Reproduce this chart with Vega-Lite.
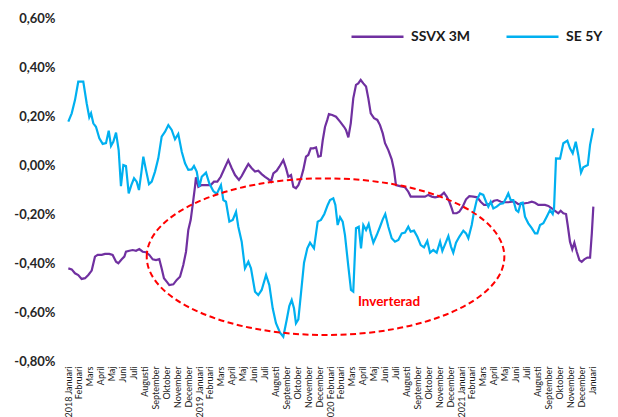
{
  "$schema": "https://vega.github.io/schema/vega-lite/v6.json",
  "width": 526,
  "height": 343,
  "autosize": {"type": "none"},
  "padding": {"left": 68, "top": 18, "right": 24, "bottom": 56},
  "background": "white",
  "config": {"view": {"stroke": null}, "font": "Lato", "axisX": {"labelOverlap": false, "labelFlush": false, "labelBound": false, "labelSeparation": 0}},
  "datasets": {
    "se": [
      {"m":0.03,"v":0.177},{"m":0.34,"v":0.211},{"m":0.64,"v":0.265},{"m":0.94,"v":0.340},{"m":1.40,"v":0.340},{"m":1.71,"v":0.252},{"m":1.95,"v":0.195},{"m":2.11,"v":0.211},{"m":2.32,"v":0.170},{"m":2.56,"v":0.156},{"m":2.87,"v":0.109},{"m":3.18,"v":0.086},{"m":3.48,"v":0.089},{"m":3.73,"v":0.140},{"m":3.94,"v":0.078},{"m":4.15,"v":0.095},{"m":4.40,"v":0.132},{"m":4.64,"v":0.061},{"m":4.85,"v":-0.086},{"m":5.07,"v":0.000},{"m":5.31,"v":-0.004},{"m":5.56,"v":-0.116},{"m":5.80,"v":-0.082},{"m":6.05,"v":-0.054},{"m":6.29,"v":-0.068},{"m":6.50,"v":-0.102},{"m":6.71,"v":-0.034},{"m":6.90,"v":0.034},{"m":7.14,"v":-0.020},{"m":7.42,"v":-0.078},{"m":7.67,"v":-0.068},{"m":7.97,"v":-0.027},{"m":8.27,"v":0.027},{"m":8.58,"v":0.116},{"m":8.89,"v":0.136},{"m":9.19,"v":0.163},{"m":9.50,"v":0.143},{"m":9.80,"v":0.105},{"m":10.10,"v":0.127},{"m":10.42,"v":0.054},{"m":10.72,"v":0.007},{"m":11.02,"v":-0.020},{"m":11.33,"v":-0.018},{"m":11.54,"v":-0.004},{"m":11.79,"v":-0.027},{"m":12.03,"v":-0.089},{"m":12.25,"v":-0.048},{"m":12.64,"v":-0.031},{"m":12.94,"v":-0.075},{"m":13.31,"v":-0.106},{"m":13.62,"v":-0.118},{"m":14.01,"v":-0.082},{"m":14.23,"v":-0.143},{"m":14.47,"v":-0.150},{"m":14.78,"v":-0.231},{"m":15.09,"v":-0.224},{"m":15.39,"v":-0.191},{"m":15.60,"v":-0.252},{"m":15.91,"v":-0.313},{"m":16.21,"v":-0.422},{"m":16.52,"v":-0.395},{"m":16.76,"v":-0.422},{"m":17.13,"v":-0.517},{"m":17.43,"v":-0.531},{"m":17.74,"v":-0.510},{"m":18.14,"v":-0.449},{"m":18.44,"v":-0.490},{"m":18.75,"v":-0.585},{"m":19.05,"v":-0.646},{"m":19.42,"v":-0.684},{"m":19.72,"v":-0.701},{"m":20.03,"v":-0.633},{"m":20.27,"v":-0.576},{"m":20.49,"v":-0.551},{"m":20.70,"v":-0.585},{"m":20.88,"v":-0.646},{"m":21.10,"v":-0.630},{"m":21.34,"v":-0.524},{"m":21.62,"v":-0.399},{"m":21.92,"v":-0.340},{"m":22.17,"v":-0.317},{"m":22.53,"v":-0.340},{"m":22.87,"v":-0.231},{"m":23.17,"v":-0.224},{"m":23.48,"v":-0.200},{"m":23.79,"v":-0.163},{"m":24.00,"v":-0.143},{"m":24.30,"v":-0.136},{"m":24.49,"v":-0.163},{"m":24.70,"v":-0.245},{"m":24.92,"v":-0.213},{"m":25.16,"v":-0.231},{"m":25.37,"v":-0.286},{"m":25.68,"v":-0.415},{"m":25.92,"v":-0.510},{"m":26.13,"v":-0.517},{"m":26.38,"v":-0.258},{"m":26.63,"v":-0.252},{"m":26.84,"v":-0.340},{"m":27.05,"v":-0.245},{"m":27.30,"v":-0.265},{"m":27.54,"v":-0.241},{"m":27.73,"v":-0.279},{"m":27.97,"v":-0.317},{"m":28.28,"v":-0.286},{"m":28.58,"v":-0.252},{"m":28.83,"v":-0.222},{"m":29.06,"v":-0.200},{"m":29.34,"v":-0.252},{"m":29.65,"v":-0.299},{"m":29.95,"v":-0.313},{"m":30.26,"v":-0.306},{"m":30.57,"v":-0.279},{"m":30.87,"v":-0.276},{"m":31.17,"v":-0.252},{"m":31.39,"v":-0.272},{"m":31.69,"v":-0.268},{"m":32.00,"v":-0.293},{"m":32.31,"v":-0.327},{"m":32.61,"v":-0.336},{"m":32.91,"v":-0.310},{"m":33.16,"v":-0.358},{"m":33.46,"v":-0.347},{"m":33.77,"v":-0.358},{"m":34.08,"v":-0.313},{"m":34.29,"v":-0.351},{"m":34.60,"v":-0.317},{"m":34.84,"v":-0.290},{"m":35.08,"v":-0.333},{"m":35.29,"v":-0.358},{"m":35.54,"v":-0.317},{"m":35.84,"v":-0.293},{"m":36.21,"v":-0.268},{"m":36.46,"v":-0.279},{"m":36.67,"v":-0.299},{"m":36.98,"v":-0.245},{"m":37.19,"v":-0.191},{"m":37.44,"v":-0.143},{"m":37.74,"v":-0.116},{"m":38.04,"v":-0.122},{"m":38.29,"v":-0.150},{"m":38.50,"v":-0.170},{"m":38.72,"v":-0.150},{"m":38.96,"v":-0.177},{"m":39.27,"v":-0.170},{"m":39.57,"v":-0.159},{"m":39.87,"v":-0.156},{"m":40.12,"v":-0.136},{"m":40.33,"v":-0.116},{"m":40.55,"v":-0.143},{"m":40.79,"v":-0.143},{"m":41.04,"v":-0.184},{"m":41.25,"v":-0.191},{"m":41.47,"v":-0.156},{"m":41.65,"v":-0.154},{"m":41.86,"v":-0.211},{"m":42.16,"v":-0.238},{"m":42.48,"v":-0.258},{"m":42.78,"v":-0.279},{"m":42.99,"v":-0.279},{"m":43.24,"v":-0.245},{"m":43.54,"v":-0.238},{"m":43.85,"v":-0.211},{"m":44.15,"v":-0.184},{"m":44.40,"v":-0.200},{"m":44.52,"v":-0.177},{"m":44.70,"v":0.027},{"m":45.07,"v":0.026},{"m":45.37,"v":0.089},{"m":45.74,"v":0.099},{"m":45.98,"v":0.068},{"m":46.23,"v":0.048},{"m":46.51,"v":0.095},{"m":46.74,"v":0.041},{"m":46.99,"v":-0.031},{"m":47.20,"v":-0.009},{"m":47.61,"v":0.000},{"m":47.82,"v":0.082},{"m":48.12,"v":0.150}
    ],
    "ssvx": [
      {"m":0.03,"v":-0.422},{"m":0.34,"v":-0.426},{"m":0.64,"v":-0.442},{"m":0.94,"v":-0.449},{"m":1.25,"v":-0.465},{"m":1.56,"v":-0.462},{"m":1.86,"v":-0.449},{"m":2.17,"v":-0.431},{"m":2.47,"v":-0.374},{"m":2.72,"v":-0.367},{"m":3.09,"v":-0.367},{"m":3.39,"v":-0.363},{"m":3.78,"v":-0.363},{"m":4.09,"v":-0.367},{"m":4.40,"v":-0.395},{"m":4.61,"v":-0.401},{"m":4.92,"v":-0.385},{"m":5.16,"v":-0.374},{"m":5.31,"v":-0.354},{"m":5.62,"v":-0.350},{"m":5.93,"v":-0.347},{"m":6.23,"v":-0.350},{"m":6.53,"v":-0.343},{"m":6.84,"v":-0.354},{"m":7.14,"v":-0.356},{"m":7.45,"v":-0.367},{"m":7.76,"v":-0.385},{"m":8.06,"v":-0.388},{"m":8.36,"v":-0.384},{"m":8.58,"v":-0.422},{"m":8.79,"v":-0.462},{"m":9.04,"v":-0.476},{"m":9.28,"v":-0.490},{"m":9.65,"v":-0.487},{"m":9.96,"v":-0.469},{"m":10.26,"v":-0.456},{"m":10.56,"v":-0.408},{"m":10.81,"v":-0.354},{"m":11.02,"v":-0.265},{"m":11.24,"v":-0.224},{"m":11.42,"v":-0.163},{"m":11.63,"v":-0.089},{"m":11.72,"v":-0.050},{"m":11.94,"v":-0.089},{"m":12.25,"v":-0.082},{"m":12.71,"v":-0.082},{"m":13.07,"v":-0.082},{"m":13.37,"v":-0.068},{"m":13.68,"v":-0.068},{"m":13.99,"v":-0.048},{"m":14.38,"v":-0.009},{"m":14.68,"v":0.020},{"m":15.00,"v":-0.013},{"m":15.30,"v":-0.041},{"m":15.66,"v":-0.061},{"m":15.91,"v":-0.045},{"m":16.21,"v":-0.020},{"m":16.52,"v":0.004},{"m":16.83,"v":-0.013},{"m":17.13,"v":-0.027},{"m":17.43,"v":-0.023},{"m":17.74,"v":-0.037},{"m":18.05,"v":-0.048},{"m":18.35,"v":-0.058},{"m":18.59,"v":-0.068},{"m":18.81,"v":-0.034},{"m":19.12,"v":-0.023},{"m":19.36,"v":-0.007},{"m":19.72,"v":0.020},{"m":19.97,"v":-0.013},{"m":20.18,"v":-0.048},{"m":20.43,"v":-0.041},{"m":20.64,"v":-0.089},{"m":20.88,"v":-0.095},{"m":21.10,"v":-0.082},{"m":21.34,"v":-0.054},{"m":21.55,"v":-0.020},{"m":21.80,"v":0.034},{"m":22.01,"v":0.041},{"m":22.23,"v":0.068},{"m":22.47,"v":0.068},{"m":22.72,"v":0.072},{"m":22.93,"v":0.034},{"m":23.15,"v":0.037},{"m":23.33,"v":0.100},{"m":23.54,"v":0.155},{"m":23.75,"v":0.184},{"m":23.90,"v":0.208},{"m":24.20,"v":0.204},{"m":24.55,"v":0.197},{"m":24.92,"v":0.177},{"m":25.28,"v":0.156},{"m":25.46,"v":0.143},{"m":25.68,"v":0.113},{"m":25.90,"v":0.170},{"m":26.13,"v":0.272},{"m":26.38,"v":0.327},{"m":26.59,"v":0.333},{"m":26.81,"v":0.347},{"m":27.05,"v":0.333},{"m":27.30,"v":0.320},{"m":27.51,"v":0.272},{"m":27.73,"v":0.211},{"m":28.03,"v":0.191},{"m":28.33,"v":0.184},{"m":28.58,"v":0.163},{"m":28.83,"v":0.129},{"m":29.04,"v":0.089},{"m":29.34,"v":0.061},{"m":29.65,"v":0.023},{"m":29.86,"v":-0.020},{"m":30.04,"v":-0.082},{"m":30.41,"v":-0.086},{"m":30.87,"v":-0.091},{"m":31.17,"v":-0.109},{"m":31.39,"v":-0.129},{"m":31.79,"v":-0.129},{"m":32.24,"v":-0.129},{"m":32.70,"v":-0.129},{"m":33.00,"v":-0.122},{"m":33.32,"v":-0.129},{"m":33.62,"v":-0.132},{"m":33.92,"v":-0.129},{"m":34.23,"v":-0.122},{"m":34.44,"v":-0.113},{"m":34.69,"v":-0.129},{"m":34.93,"v":-0.150},{"m":35.15,"v":-0.177},{"m":35.29,"v":-0.197},{"m":35.60,"v":-0.197},{"m":35.84,"v":-0.191},{"m":36.15,"v":-0.170},{"m":36.46,"v":-0.140},{"m":36.76,"v":-0.127},{"m":37.13,"v":-0.129},{"m":37.49,"v":-0.132},{"m":37.80,"v":-0.150},{"m":38.11,"v":-0.163},{"m":38.41,"v":-0.163},{"m":38.72,"v":-0.156},{"m":39.02,"v":-0.146},{"m":39.32,"v":-0.143},{"m":39.64,"v":-0.150},{"m":40.03,"v":-0.152},{"m":40.33,"v":-0.152},{"m":40.64,"v":-0.150},{"m":40.95,"v":-0.150},{"m":41.25,"v":-0.160},{"m":41.56,"v":-0.159},{"m":41.86,"v":-0.156},{"m":42.16,"v":-0.154},{"m":42.48,"v":-0.150},{"m":42.78,"v":-0.154},{"m":43.08,"v":-0.163},{"m":43.39,"v":-0.163},{"m":43.69,"v":-0.163},{"m":44.00,"v":-0.167},{"m":44.31,"v":-0.177},{"m":44.61,"v":-0.187},{"m":44.91,"v":-0.197},{"m":45.13,"v":-0.187},{"m":45.37,"v":-0.197},{"m":45.62,"v":-0.200},{"m":45.77,"v":-0.245},{"m":45.98,"v":-0.313},{"m":46.19,"v":-0.344},{"m":46.38,"v":-0.317},{"m":46.60,"v":-0.354},{"m":46.84,"v":-0.388},{"m":47.05,"v":-0.395},{"m":47.29,"v":-0.385},{"m":47.57,"v":-0.378},{"m":47.82,"v":-0.378},{"m":47.98,"v":-0.279},{"m":48.12,"v":-0.170}
    ]
  },
  "layer": [
    {
      "data": {"name": "ssvx"},
      "mark": {"type": "line", "strokeWidth": 2.2},
      "encoding": {
        "x": {
          "field": "m", "type": "quantitative",
          "scale": {"domain": [0, 48.18], "nice": false, "zero": false},
          "axis": {
            "title": null, "values": [0,1,2,3,4,5,6,7,8,9,10,11,12,13,14,15,16,17,18,19,20,21,22,23,24,25,26,27,28,29,30,31,32,33,34,35,36,37,38,39,40,41,42,43,44,45,46,47,48],
            "tickCount": 100,
            "domain": false, "ticks": false, "grid": false,
            "labelAngle": 270, "labelFontSize": 9, "labelFont": "Lato", "labelColor": "#1a1a1a",
            "labelPadding": 5, "labelOverlap": false, "labelFlush": false, "labelBound": false,
            "labelExpr": "datum.value == 24 ? '2020 Februari' : (((datum.value % 12 == 0) && (datum.value < 48)) ? (2018 + datum.value / 12) + ' ' : '') + ['Januari','Februari','Mars','April','Maj','Juni','Juli','Augusti','September','Oktober','November','December'][datum.value % 12]"
          }
        },
        "y": {
          "field": "v", "type": "quantitative",
          "scale": {"domain": [-0.8, 0.6], "nice": false, "zero": false},
          "axis": {
            "title": null, "values": [-0.8, -0.6, -0.4, -0.2, 0, 0.2, 0.4, 0.6],
            "tickCount": 20,
            "domain": false, "ticks": false, "grid": false,
            "labelFontSize": 13, "labelFontWeight": "bold", "labelFont": "Lato", "labelColor": "#262626",
            "labelPadding": 13,
            "labelExpr": "(datum.value < 0 ? '-' : '') + replace(format(abs(datum.value), '.2f'), '.', ',') + '%'"
          }
        },
        "color": {
          "datum": "SSVX 3M",
          "scale": {"domain": ["SSVX 3M", "SE 5Y"], "range": ["#7030A0", "#00B0F0"]},
          "legend": {
            "title": null, "orient": "none", "legendX": 282, "legendY": -9, "direction": "horizontal",
            "symbolType": "stroke", "symbolSize": 2704, "symbolStrokeWidth": 2.5,
            "labelFontSize": 14, "labelFontWeight": "bold", "labelFont": "Lato", "labelColor": "#1a1a1a",
            "labelOffset": 6, "columnPadding": 30
          }
        }
      }
    },
    {
      "data": {"name": "se"},
      "mark": {"type": "line", "strokeWidth": 2.2},
      "encoding": {
        "x": {"field": "m", "type": "quantitative"},
        "y": {"field": "v", "type": "quantitative"},
        "color": {"datum": "SE 5Y"}
      }
    },
    {
      "data": {"values": [{}]},
      "mark": {
        "type": "point",
        "shape": "M -1 0 C -1 -0.2419 -0.5523 -0.438 0 -0.438 C 0.5523 -0.438 1 -0.2419 1 0 C 1 0.2419 0.5523 0.438 0 0.438 C -0.5523 0.438 -1 0.2419 -1 0 Z",
        "size": 127878, "filled": false, "stroke": "#FF0000", "color": "#FF0000",
        "strokeWidth": 2, "strokeDash": [6, 3.5], "opacity": 1
      },
      "encoding": {
        "x": {"datum": 23.59, "type": "quantitative"},
        "y": {"datum": -0.3743, "type": "quantitative"}
      }
    },
    {
      "data": {"values": [{}]},
      "mark": {"type": "text", "text": "Inverterad", "color": "#FF0000", "fontSize": 13.5, "fontWeight": "bold", "font": "Lato"},
      "encoding": {
        "x": {"datum": 29.4, "type": "quantitative"},
        "y": {"datum": -0.559, "type": "quantitative"}
      }
    }
  ]
}
